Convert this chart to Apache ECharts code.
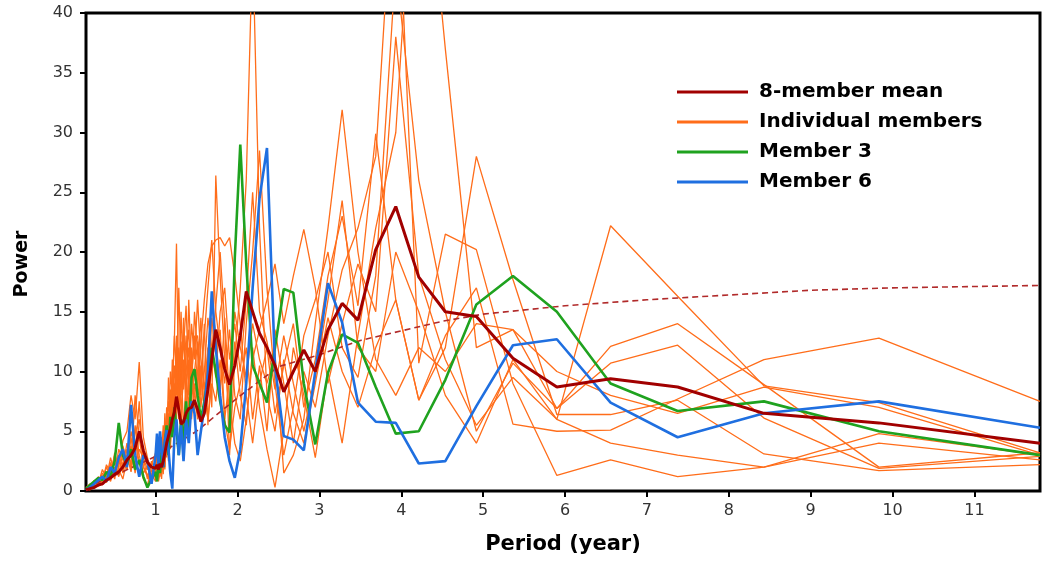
<!DOCTYPE html>
<html>
<head>
<meta charset="utf-8">
<script src="https://cdn.jsdelivr.net/npm/echarts@6/dist/echarts.min.js"></script>
<style>
  html, body { margin: 0; padding: 0; background: #fff; }
  #chart { width: 1046px; height: 566px; }
</style>
</head>
<body>
<div id="chart"></div>
<script>
// Period grid (years), shared by every spectrum
const periods = [
  0.15, 0.2, 0.25, 0.3, 0.35, 0.4, 0.45, 0.5, 0.55, 0.6, 0.65, 0.7, 0.75, 0.8, 0.85, 0.9, 0.95,
  1.000, 1.017, 1.035, 1.054, 1.073, 1.093, 1.113, 1.135, 1.157, 1.180,
  1.204, 1.229, 1.255, 1.283, 1.311, 1.341, 1.372, 1.405, 1.439, 1.475,
  1.513, 1.553, 1.595, 1.639, 1.686, 1.735, 1.788, 1.844, 1.903, 1.967,
  2.034, 2.107, 2.185, 2.269, 2.360, 2.458, 2.565, 2.682, 2.810, 2.950,
  3.105, 3.278, 3.471, 3.688, 3.933, 4.214, 4.538, 4.917, 5.364, 5.900,
  6.556, 7.375, 8.429, 9.833, 11.800
];

// 8-member mean spectrum
const meanPower = [
  0.1, 0.2, 0.3, 0.5, 0.6, 0.9, 1.1, 1.4, 1.6, 2.0, 2.6, 3.0, 3.6, 5.0, 3.4, 2.4, 2.0,
  1.9, 2.2, 1.8, 2.3, 2.0, 2.5, 3.2, 4.0, 4.6, 5.2,
  6.0, 6.6, 7.9, 6.8, 5.6, 5.8, 6.5, 6.9, 7.0, 7.6,
  6.8, 5.8, 6.5, 8.5, 11.0, 13.5, 12.0, 10.2, 8.9, 10.5,
  13.0, 16.7, 15.0, 13.2, 12.0, 10.5, 8.3, 10.0, 11.8, 10.0,
  13.5, 15.7, 14.3, 20.2, 23.8, 17.9, 15.0, 14.6, 11.1, 8.7,
  9.4, 8.7, 6.5, 5.7, 4.0
];

// Member 3
const member3 = [
  0.2, 0.5, 0.8, 1.1, 0.9, 1.6, 1.2, 2.5, 5.7, 3.0, 2.2, 3.5, 1.8, 2.6, 1.2, 0.3, 1.0,
  1.6, 0.8, 2.4, 1.5, 3.2, 2.0, 4.0, 5.5, 3.0, 6.2,
  4.5, 7.0, 5.2, 3.0, 6.0, 4.0, 7.5, 5.0, 9.5, 10.2,
  8.0, 6.0, 7.5, 9.5, 12.0, 10.0, 7.5, 5.5, 4.9, 19.5,
  29.0, 19.0, 10.5, 9.0, 7.4, 12.0, 16.9, 16.6, 9.0, 3.9,
  9.9, 13.1, 12.4, 8.7, 4.8, 5.0, 9.3, 15.6, 18.0, 15.0,
  9.0, 6.7, 7.5, 5.0, 3.0
];

// Member 6
const member6 = [
  0.1, 0.3, 0.6, 0.9, 1.2, 0.8, 2.0, 1.5, 2.8, 3.5, 2.0, 7.2, 3.0, 1.2, 3.0, 2.5, 0.6,
  3.0, 4.8, 2.0, 5.0, 3.5, 2.0, 4.2, 5.1, 3.5, 1.5,
  0.2, 4.5, 6.0, 3.0, 5.5, 2.5, 6.0, 4.0, 7.5, 6.5,
  3.0, 5.0, 7.0, 10.0, 16.7, 12.0, 8.0, 4.5, 2.5, 1.1,
  3.5, 9.0, 17.0, 24.5, 28.7, 10.4, 4.6, 4.3, 3.4, 10.0,
  17.4, 14.1, 7.4, 5.8, 5.7, 2.3, 2.5, 7.1, 12.2, 12.7,
  7.4, 4.5, 6.5, 7.5, 5.3
];

// Individual members
const memberA = [
  0.1, 0.3, 0.5, 0.4, 1.0, 1.5, 0.8, 2.0, 1.2, 2.4, 3.0, 1.6, 4.0, 2.5, 1.0, 0.5, 1.8,
  1.0, 2.2, 0.8, 1.5, 3.0, 1.4, 3.8, 5.2, 2.5, 6.0,
  9.0, 12.5, 20.7, 8.0, 11.0, 5.0, 9.5, 7.0, 12.0, 6.5,
  10.0, 14.5, 8.0, 6.0, 9.0, 7.5, 11.0, 6.0, 3.5, 7.0,
  9.0, 12.0, 6.0, 10.5, 5.0, 13.5, 9.0, 4.0, 10.0, 7.0,
  13.0, 18.5, 22.0, 28.0, 55.0, 10.7, 21.5, 20.2, 9.0, 1.3,
  2.6, 1.2, 2.0, 4.8, 3.0
];
const memberB = [
  0.2, 0.1, 0.6, 0.9, 0.5, 1.2, 2.0, 1.0, 2.8, 1.5, 3.5, 2.2, 8.0, 4.5, 2.0, 1.4, 0.6,
  2.5, 1.0, 3.0, 2.0, 4.5, 2.5, 6.5, 3.5, 9.5, 5.0,
  11.0, 7.5, 13.0, 9.0, 15.0, 8.5, 11.5, 13.5, 7.5, 10.0,
  12.5, 8.0, 14.0, 5.5, 11.0, 15.5, 20.0, 14.0, 3.0, 11.0,
  17.0, 26.0, 46.0, 22.0, 8.0, 5.0, 11.0, 6.5, 4.0, 9.0,
  14.5, 10.0, 7.0, 12.0, 16.0, 7.6, 12.0, 28.0, 17.7, 6.4,
  6.4, 7.6, 3.1, 1.7, 2.2
];
const memberC = [
  0.1, 0.4, 0.2, 0.8, 1.3, 0.7, 1.6, 2.5, 1.4, 3.2, 1.8, 4.5, 2.0, 3.5, 2.8, 1.0, 2.5,
  1.5, 3.5, 1.2, 2.8, 1.8, 4.0, 2.0, 5.5, 3.2, 7.0,
  4.5, 9.0, 6.0, 12.0, 8.0, 14.5, 6.5, 9.5, 11.0, 8.0,
  6.0, 9.5, 13.0, 17.0, 21.0, 15.0, 12.0, 9.0, 13.5, 8.0,
  6.0, 14.0, 20.0, 28.5, 17.0, 9.0, 3.0, 7.0, 13.0, 16.0,
  20.0, 12.0, 9.5, 18.0, 44.0, 26.0, 15.0, 5.0, 10.7, 6.9,
  10.7, 12.2, 6.1, 1.9, 2.9
];
const memberD = [
  0.2, 0.5, 0.3, 0.6, 1.5, 1.0, 2.4, 1.3, 3.0, 2.0, 4.0, 1.8, 5.5, 3.0, 1.5, 2.0, 1.2,
  2.8, 1.4, 4.2, 2.0, 3.5, 5.0, 2.5, 6.5, 4.0, 8.5,
  6.0, 10.5, 8.0, 17.0, 10.0, 12.0, 15.5, 9.0, 14.0, 11.0,
  16.0, 11.0, 8.5, 12.0, 7.0, 26.4, 18.0, 11.0, 6.5, 12.5,
  8.0, 5.5, 12.0, 7.0, 3.5, 0.3, 5.0, 12.0, 8.0, 2.8,
  10.0, 4.0, 13.0, 22.0, 30.0, 60.0, 37.0, 12.0, 13.5, 10.0,
  8.0, 6.5, 8.7, 7.0, 3.0
];
const memberE = [
  0.1, 0.2, 0.7, 0.5, 0.9, 2.0, 1.1, 3.2, 1.8, 1.0, 2.6, 3.8, 1.5, 5.0, 3.5, 2.2, 1.4,
  0.8, 2.0, 3.6, 1.2, 2.5, 1.6, 4.8, 2.8, 5.8, 3.5,
  7.0, 4.8, 10.0, 7.0, 5.5, 11.0, 7.5, 16.0, 9.5, 13.0,
  8.5, 12.5, 16.0, 19.0, 20.5, 21.0, 21.2, 20.5, 21.2, 18.0,
  14.0, 8.0, 4.0, 9.0, 12.0, 6.5, 10.5, 14.0, 7.0, 11.0,
  18.0, 23.0, 15.5, 29.9, 16.0, 7.6, 13.0, 17.0, 5.6, 5.0,
  5.1, 7.7, 11.0, 12.8, 7.5
];
const memberF = [
  0.3, 0.6, 0.4, 1.2, 0.8, 2.2, 1.5, 3.0, 2.0, 4.2, 5.0, 8.0, 6.0, 10.8, 4.5, 2.8, 1.6,
  2.2, 1.2, 3.0, 2.4, 1.0, 3.2, 1.8, 4.8, 6.5, 4.0,
  8.0, 13.0, 10.0, 6.0, 10.5, 13.5, 9.0, 11.0, 8.5, 15.0,
  11.5, 7.0, 10.0, 14.5, 12.0, 9.5, 15.0, 17.0, 11.0, 14.0,
  10.0, 16.0, 25.0, 15.0, 12.5, 8.5, 13.0, 9.0, 5.0, 9.5,
  16.0, 24.3, 12.0, 10.0, 20.0, 15.0, 8.0, 4.0, 11.0, 6.0,
  22.2, 16.3, 8.8, 7.4, 3.2
];
const memberG = [
  0.2, 0.3, 0.9, 0.6, 1.8, 1.1, 2.8, 1.4, 3.5, 2.6, 1.8, 5.0, 3.2, 7.5, 2.0, 1.2, 0.8,
  1.8, 3.0, 2.0, 3.8, 2.8, 5.5, 3.0, 7.0, 4.5, 10.0,
  8.0, 5.5, 12.0, 7.0, 12.5, 9.0, 13.0, 8.0, 10.5, 12.5,
  13.0, 9.5, 7.0, 11.5, 16.0, 13.0, 8.5, 14.5, 7.5, 4.0,
  2.5, 6.0, 11.0, 13.5, 16.0, 19.0, 14.0, 18.0, 21.9, 17.0,
  9.0, 14.0, 19.0, 15.0, 38.0, 18.0, 11.0, 5.5, 9.5, 6.0,
  4.0, 3.0, 2.0, 4.0, 2.6
];
const memberH = [
  0.1, 0.4, 0.6, 1.0, 0.6, 1.4, 2.2, 1.8, 2.4, 3.8, 2.4, 3.0, 4.8, 6.0, 2.8, 1.8, 2.2,
  3.2, 1.8, 2.6, 4.2, 2.2, 3.0, 5.2, 3.8, 7.5, 6.0,
  10.0, 6.5, 9.0, 11.5, 6.5, 9.5, 10.0, 12.0, 6.0, 9.0,
  7.5, 10.5, 6.5, 8.0, 14.5, 11.5, 13.5, 6.0, 9.5, 15.0,
  12.0, 9.5, 14.0, 11.0, 9.0, 11.5, 1.5, 3.0, 6.0, 14.0,
  22.0, 31.9, 20.0, 11.0, 8.0, 12.0, 10.0, 14.0, 13.5, 6.9,
  12.1, 14.0, 8.9, 2.0, 3.2
];

// Red-noise reference spectrum (dashed)
const noisePeriods = [0.15, 0.5, 1.0, 1.5, 2.0, 2.5, 3.0, 3.5, 4.0, 4.5, 5.0, 6.0, 7.0, 8.0, 9.0, 10.0, 11.8];
const noisePower   = [0.3, 1.3, 2.9, 5.0, 7.8, 10.4, 11.4, 12.6, 13.4, 14.2, 14.8, 15.5, 16.0, 16.4, 16.8, 17.0, 17.2];

// Axis ticks
const xTicks = [1, 2, 3, 4, 5, 6, 7, 8, 9, 10, 11];
const yTicks = [0, 5, 10, 15, 20, 25, 30, 35, 40];

const COLOR_MEAN = '#a10000';
const COLOR_MEMBER = '#ff6d1a';
const COLOR_M3 = '#1fa21f';
const COLOR_M6 = '#1f6fe0';
const COLOR_NOISE = '#b12a2a';
const FONT = 'DejaVu Sans';

function pairs(xs, ys) { return xs.map((x, i) => [x, ys[i]]); }

const individualMembers = [memberA, memberB, memberC, memberD, memberE, memberF, memberG, memberH];

const series = [];
individualMembers.forEach(m => {
  series.push({
    type: 'line', name: 'Individual members', data: pairs(periods, m),
    symbol: 'none', color: COLOR_MEMBER, z: 2,
    lineStyle: { width: 1.3, color: COLOR_MEMBER }
  });
});
series.push({
  type: 'line', name: 'Red noise', data: pairs(noisePeriods, noisePower),
  symbol: 'none', color: COLOR_NOISE, z: 3,
  lineStyle: { width: 1.6, color: COLOR_NOISE, type: [6, 4] }
});
series.push({
  type: 'line', name: 'Member 3', data: pairs(periods, member3),
  symbol: 'none', color: COLOR_M3, z: 4,
  lineStyle: { width: 2.6, color: COLOR_M3 }
});
series.push({
  type: 'line', name: 'Member 6', data: pairs(periods, member6),
  symbol: 'none', color: COLOR_M6, z: 5,
  lineStyle: { width: 2.6, color: COLOR_M6 }
});
series.push({
  type: 'line', name: '8-member mean', data: pairs(periods, meanPower),
  symbol: 'none', color: COLOR_MEAN, z: 6,
  lineStyle: { width: 3, color: COLOR_MEAN }
});

const chart = echarts.init(document.getElementById('chart'), null, { renderer: 'canvas' });
chart.setOption({
  animation: false,
  backgroundColor: '#fff',
  grid: {
    left: 86, right: 6, top: 13, bottom: 75,
    show: true, borderColor: '#000', borderWidth: 3, backgroundColor: 'transparent'
  },
  xAxis: {
    type: 'value', min: 0.15, max: 11.8,
    axisLine: { show: false },
    splitLine: { show: false },
    axisTick: { show: true, customValues: xTicks, length: 6, lineStyle: { color: '#000', width: 2 } },
    axisLabel: { customValues: xTicks, margin: 12, color: '#333', fontSize: 16, fontFamily: FONT }
  },
  yAxis: {
    type: 'value', min: 0, max: 40, interval: 5,
    axisLine: { show: false },
    splitLine: { show: false },
    axisTick: { show: true, customValues: yTicks, length: 6, lineStyle: { color: '#000', width: 2 } },
    axisLabel: { customValues: yTicks, margin: 13, color: '#333', fontSize: 16, fontFamily: FONT }
  },
  legend: {
    data: ['8-member mean', 'Individual members', 'Member 3', 'Member 6'],
    orient: 'vertical', left: 672, top: 76,
    icon: 'rect', itemWidth: 71, itemHeight: 3, itemGap: 8,
    selectedMode: false,
    textStyle: { fontSize: 20, lineHeight: 22, fontFamily: FONT, fontWeight: 'bold', color: '#000', padding: [0, 0, 0, 6] }
  },
  graphic: [
    {
      type: 'text', x: 22, y: 264, rotation: Math.PI / 2,
      style: { text: 'Power', fill: '#000', font: 'bold 19px "DejaVu Sans"', textAlign: 'center', textVerticalAlign: 'middle' }
    },
    {
      type: 'text', x: 563, y: 545,
      style: { text: 'Period (year)', fill: '#000', font: 'bold 21px "DejaVu Sans"', textAlign: 'center', textVerticalAlign: 'middle' }
    }
  ],
  series: series
});
</script>
</body>
</html>
